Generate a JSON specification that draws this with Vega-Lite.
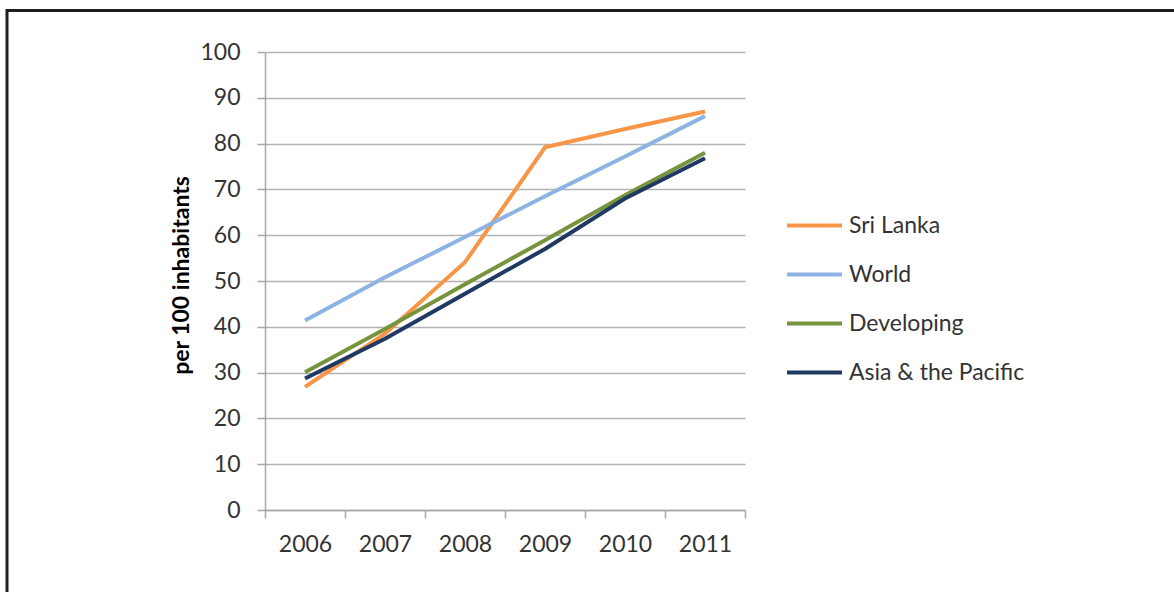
{
  "$schema": "https://vega.github.io/schema/vega-lite/v6.json",
  "width": 480,
  "height": 458,
  "autosize": {"type": "none"},
  "padding": {"left": 265, "top": 52, "right": 429, "bottom": 82},
  "background": "white",
  "config": {"view": {"stroke": null}, "font": "Lato"},
  "layer": [
    {
      "data": {"values": [{"frame": 1}]},
      "mark": {"type": "rect", "fill": null, "stroke": "#1e1e1e", "strokeWidth": 3, "clip": false},
      "encoding": {
        "x": {"value": -258},
        "x2": {"value": 930},
        "y": {"value": -41.5},
        "y2": {"value": 580}
      }
    },
    {
      "data": {
        "values": [
          {"year": "2006", "series": "Sri Lanka", "value": 26.9},
          {"year": "2007", "series": "Sri Lanka", "value": 38.5},
          {"year": "2008", "series": "Sri Lanka", "value": 54.1},
          {"year": "2009", "series": "Sri Lanka", "value": 79.2},
          {"year": "2010", "series": "Sri Lanka", "value": 83.2},
          {"year": "2011", "series": "Sri Lanka", "value": 87.0},
          {"year": "2006", "series": "World", "value": 41.4},
          {"year": "2007", "series": "World", "value": 50.8},
          {"year": "2008", "series": "World", "value": 59.6},
          {"year": "2009", "series": "World", "value": 68.5},
          {"year": "2010", "series": "World", "value": 77.2},
          {"year": "2011", "series": "World", "value": 86.0},
          {"year": "2006", "series": "Developing", "value": 30.1},
          {"year": "2007", "series": "Developing", "value": 39.5},
          {"year": "2008", "series": "Developing", "value": 49.3},
          {"year": "2009", "series": "Developing", "value": 58.9},
          {"year": "2010", "series": "Developing", "value": 68.7},
          {"year": "2011", "series": "Developing", "value": 78.0},
          {"year": "2006", "series": "Asia & the Pacific", "value": 28.7},
          {"year": "2007", "series": "Asia & the Pacific", "value": 37.4},
          {"year": "2008", "series": "Asia & the Pacific", "value": 47.2},
          {"year": "2009", "series": "Asia & the Pacific", "value": 57.0},
          {"year": "2010", "series": "Asia & the Pacific", "value": 68.0},
          {"year": "2011", "series": "Asia & the Pacific", "value": 76.8}
        ]
      },
      "mark": {"type": "line", "strokeWidth": 4, "strokeJoin": "miter", "strokeCap": "butt"},
      "encoding": {
        "x": {
          "field": "year",
          "type": "ordinal",
          "bandPosition": 0.5,
          "scale": {"type": "band", "paddingInner": 0, "paddingOuter": 0},
          "axis": {
            "title": null,
            "tickBand": "extent",
            "domainColor": "#a6a6a6",
            "domainWidth": 1.5,
            "tickColor": "#a6a6a6",
            "tickWidth": 1.5,
            "tickSize": 8,
            "labelFontSize": 23,
            "labelColor": "#333333",
            "labelPadding": 15,
            "labelAngle": 0,
            "grid": false
          }
        },
        "y": {
          "field": "value",
          "type": "quantitative",
          "scale": {"domain": [0, 100], "nice": false},
          "axis": {
            "title": "per 100 inhabitants",
            "titleFontSize": 23,
            "titleFontWeight": "bold",
            "titleColor": "#000000",
            "titleAngle": -90,
            "titleX": -84,
            "titleY": 223,
            "titleAlign": "center",
            "titleBaseline": "middle",
            "values": [0, 10, 20, 30, 40, 50, 60, 70, 80, 90, 100],
            "domainColor": "#a6a6a6",
            "domainWidth": 1.5,
            "tickColor": "#a6a6a6",
            "tickWidth": 1.5,
            "tickSize": 8,
            "gridColor": "#b3b3b3",
            "gridWidth": 1.5,
            "labelFontSize": 23,
            "labelColor": "#333333",
            "labelPadding": 17
          }
        },
        "color": {
          "field": "series",
          "type": "nominal",
          "scale": {
            "domain": ["Sri Lanka", "World", "Developing", "Asia & the Pacific"],
            "range": ["#f79646", "#8db3e2", "#77933c", "#1f3864"]
          },
          "legend": {
            "title": null,
            "orient": "none",
            "legendX": 520,
            "legendY": 160,
            "symbolType": "stroke",
            "symbolSize": 3025,
            "symbolStrokeWidth": 4,
            "clipHeight": 27,
            "rowPadding": 22,
            "labelFontSize": 23,
            "labelLimit": 0,
            "labelColor": "#333333",
            "labelOffset": 5,
            "padding": 0
          }
        }
      }
    }
  ]
}
